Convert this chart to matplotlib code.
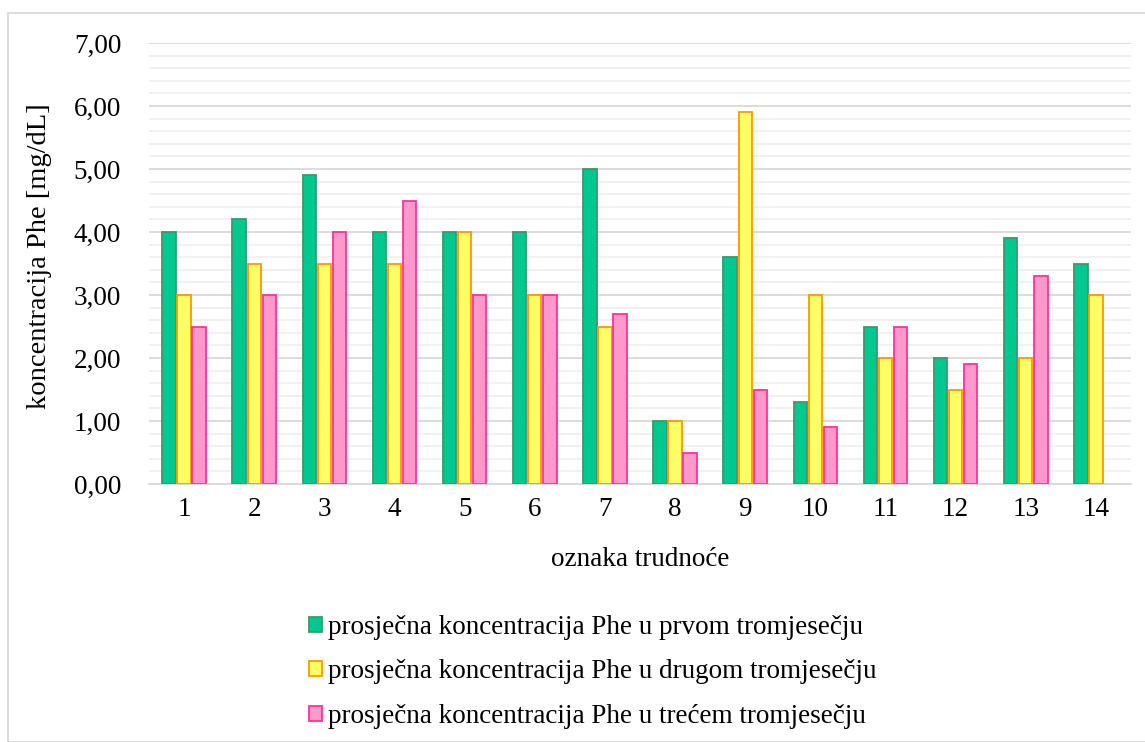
import numpy as np
import matplotlib.pyplot as plt
from matplotlib.patches import Rectangle
from matplotlib.ticker import MultipleLocator, FuncFormatter

# --- Podaci ---
trudnoce = [str(i) for i in range(1, 15)]
prvo = [4.0, 4.2, 4.9, 4.0, 4.0, 4.0, 5.0, 1.0, 3.6, 1.3, 2.5, 2.0, 3.9, 3.5]
drugo = [3.0, 3.5, 3.5, 3.5, 4.0, 3.0, 2.5, 1.0, 5.9, 3.0, 2.0, 1.5, 2.0, 3.0]
trece = [2.5, 3.0, 4.0, 4.5, 3.0, 3.0, 2.7, 0.5, 1.5, 0.9, 2.5, 1.9, 3.3, np.nan]

labels = [
    "prosječna koncentracija Phe u prvom tromjesečju",
    "prosječna koncentracija Phe u drugom tromjesečju",
    "prosječna koncentracija Phe u trećem tromjesečju",
]
faces = ["#00c98f", "#ffff66", "#ff99cc"]
edges = ["#3a9a6e", "#ff9900", "#ff3399"]

plt.rcParams["font.family"] = ["Liberation Serif", "DejaVu Serif"]
FS = 19.5

W, H = 1145, 742
fig = plt.figure(figsize=(W / 100, H / 100), dpi=100)

# okvir grafikona
fig.patches.append(
    Rectangle((8 / W, 0), 1.2, (H - 13) / H, transform=fig.transFigure,
              fill=False, edgecolor="#d9d9d9", linewidth=1.3)
)

ax = fig.add_axes([149 / W, (H - 484) / H, (1131 - 149) / W, (484 - 43) / H])

x = np.arange(len(trudnoce))
bw = 0.19
step = 0.215
for i, (vals, fc, ec, lab) in enumerate(zip([prvo, drugo, trece], faces, edges, labels)):
    ax.bar(x + (i - 1) * step, vals, width=bw, color=fc, edgecolor=ec,
           linewidth=1.3, label=lab, zorder=3)

ax.set_xlim(-0.5, len(trudnoce) - 0.5)
ax.set_ylim(0, 7)
ax.yaxis.set_major_locator(MultipleLocator(1))
ax.yaxis.set_minor_locator(MultipleLocator(0.2))
ax.yaxis.set_major_formatter(FuncFormatter(lambda v, p: f"{v:.2f}".replace(".", ",")))
ax.grid(axis="y", which="major", color="#d9d9d9", linewidth=1.3, zorder=0)
ax.grid(axis="y", which="minor", color="#f0f0f0", linewidth=1.3, zorder=0)
ax.set_axisbelow(True)

ax.set_xticks(x)
ax.set_xticklabels(trudnoce)
ax.tick_params(axis="both", which="both", length=0, labelsize=FS, colors="#000000")
ax.tick_params(axis="y", pad=20)
ax.tick_params(axis="x", pad=9)

for s in ["top", "right", "left"]:
    ax.spines[s].set_visible(False)
ax.spines["bottom"].set_color("#d9d9d9")
ax.spines["bottom"].set_linewidth(1.3)

ax.set_xlabel("oznaka trudnoće", fontsize=FS, labelpad=18)
ax.set_ylabel("koncentracija Phe [mg/dL]", fontsize=20.5)
ax.yaxis.set_label_coords((52 - 149) / (1131 - 149), (484 - 256) / (484 - 43))

fig.legend(loc="upper left", bbox_to_anchor=(298 / W, (H - 604) / H),
           frameon=False, fontsize=FS, handlelength=0.49, handleheight=0.49,
           handletextpad=0.2, labelspacing=0.72, borderaxespad=0)

fig.savefig("out.png", dpi=100)
